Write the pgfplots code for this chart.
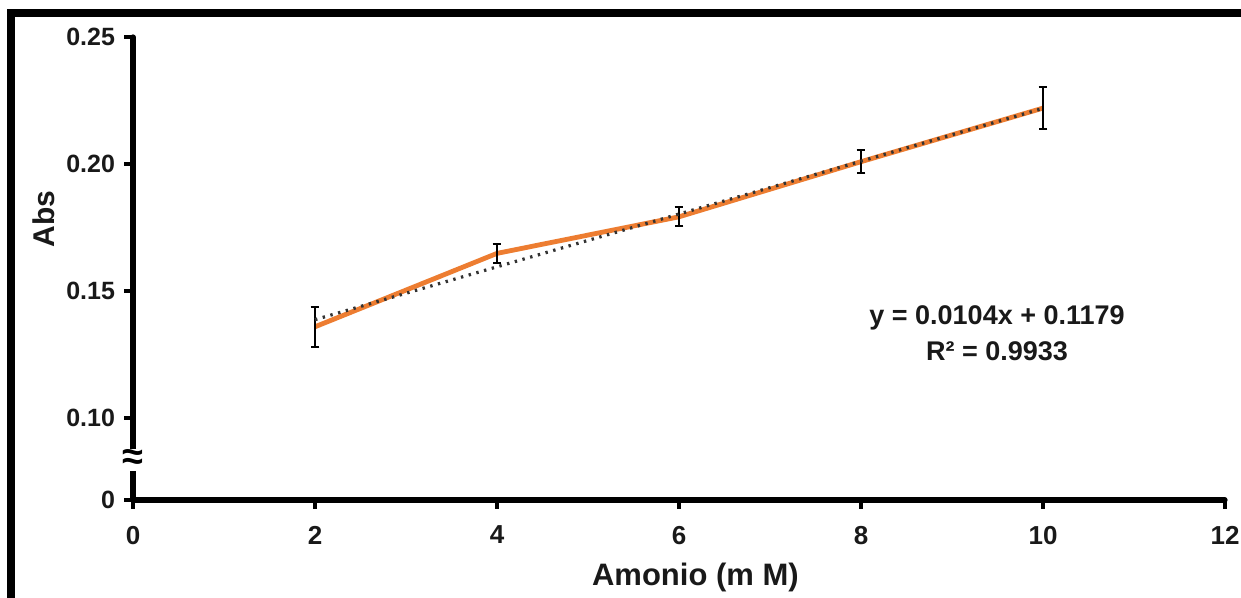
\documentclass[border=0pt]{standalone}
\usepackage{fontspec}
\setmainfont{Liberation Sans}
\usepackage{pgfplots}
\pgfplotsset{compat=1.18}
\definecolor{excelorange}{RGB}{237,125,49}
\begin{document}
\begin{tikzpicture}
\path[use as bounding box] (0,0) rectangle (620.5pt,299pt);
\begin{axis}[
  at={(66.5pt,49pt)}, anchor=south west,
  scale only axis, width=546pt, height=231.5pt,
  xmin=0, xmax=12, ymin=0.0677, ymax=0.25,
  clip=false,
  axis x line=bottom, axis y line=left,
  axis line style={line width=2.6pt, -, black, line cap=round},
  xtick={0,2,4,6,8,10,12}, xticklabels={0,2,4,6,8,10,12},
  ytick={0.0677,0.10,0.15,0.20,0.25}, yticklabels={0,0.10,0.15,0.20,0.25},
  tick align=outside, major tick length=4.5pt,
  tick style={line width=2.4pt, black},
  /pgf/number format/assume math mode=true,
  xticklabel style={font=\fontsize{13}{13}\selectfont\bfseries, color=black!90, yshift=-5pt},
  yticklabel style={font=\fontsize{12.5}{13}\selectfont\bfseries, color=black!90, xshift=-1pt},
  xlabel={Amonio (m M)},
  xlabel style={font=\fontsize{15.5}{16}\selectfont\bfseries, color=black!90, at={(rel axis cs:0.515,0)}, anchor=center, yshift=-38.5pt},
]
\addplot[color=excelorange, line width=2.4pt, no markers,
  error bars/.cd, y dir=both, y explicit,
  error bar style={line width=1pt, black},
  error mark options={mark size=2.2pt, line width=1pt, black, rotate=90}]
  table[x=x, y=y, y error=e] {
  x y e
  2 0.1359 0.0079
  4 0.1648 0.0036
  6 0.1792 0.0037
  8 0.2009 0.0046
  10 0.2220 0.0084
};
\addplot[color=black!80, line width=1.6pt, dash pattern=on 1.2pt off 2.8pt, no markers]
  coordinates {(2,0.1387) (10,0.2219)};
\node[font=\fontsize{13.5}{14}\selectfont\bfseries, color=black!90] at (axis cs:9.495,0.1394) {y = 0.0104x + 0.1179};
\node[font=\fontsize{13.5}{14}\selectfont\bfseries, color=black!90] at (axis cs:9.495,0.1264) {R² = 0.9933};
\coordinate (brk) at (axis cs:0,0.0835);
\end{axis}
\node[fill=white, inner xsep=0.2pt, inner ysep=0.5pt, font=\fontsize{19}{19}\selectfont\bfseries] at (brk) {≈};
\node[rotate=90, font=\fontsize{15}{16}\selectfont\bfseries, color=black!90] at (22pt,189.5pt) {Abs};
\draw[line width=4pt] (5.5pt,-5pt) -- (5.5pt,292.25pt) -- (630pt,292.25pt);
\end{tikzpicture}
\end{document}
